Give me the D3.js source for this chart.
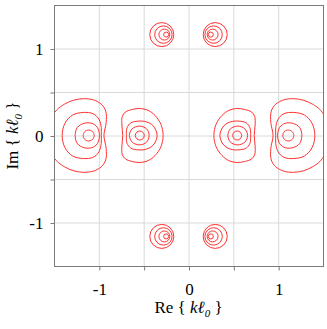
<!DOCTYPE html>
<html>
  <head>
    <meta charset="utf-8">
    <script src="https://d3js.org/d3.v7.min.js"></script>
    <style>
      body { margin: 0; background: #fff; }
      svg text { font-family: "Liberation Serif", "Times New Roman", Times, serif; fill: #000; }
    </style>
  </head>
  <body>
  <script>

    var width = 327;
    var height = 329;

    // axis ticks
    var majorTicks = [-1, 0, 1];
    var gridValues = [-1, -0.5, 0, 0.5, 1];

    // real parts of the two pole groups on the real axis (mirrored to -Re)
    var groupCentres = [0.543, 1.113];

    // contour rings, upper half only, offsets from the group centre
    // dx > 0 points away from the origin
    var innerRings = [
      [[0.05, 0], [0.035, 0.037], [0, 0.052], [-0.035, 0.037], [-0.05, 0]],
      [[0.116, 0], [0.085, 0.077], [0.005, 0.108], [-0.075, 0.077], [-0.104, 0]],
      [[0.15, 0], [0.142, 0.09], [0.1, 0.145], [0.02, 0.165], [-0.07, 0.158], [-0.15, 0.11], [-0.193, 0]],
      [[0.19, 0], [0.2, 0.12], [0.195, 0.22], [0.16, 0.27], [0.08, 0.3], [0, 0.31], [-0.09, 0.29], [-0.17, 0.23], [-0.235, 0.13], [-0.26, 0]]
    ];
    var outerRings = [
      [[0.061, 0], [0.043, 0.045], [0, 0.063], [-0.043, 0.045], [-0.061, 0]],
      [[0.151, 0], [0.125, 0.095], [0.05, 0.14], [-0.035, 0.14], [-0.095, 0.095], [-0.12, 0]],
      [[0.296, 0], [0.265, 0.14], [0.18, 0.235], [0.06, 0.265], [-0.05, 0.25], [-0.115, 0.185], [-0.14, 0.09], [-0.14, 0]],
      [[0.46, 0], [0.43, 0.17], [0.36, 0.29], [0.27, 0.36], [0.17, 0.405], [0.06, 0.423], [-0.05, 0.41], [-0.14, 0.36], [-0.19, 0.28], [-0.195, 0.15], [-0.17, 0]]
    ];

    // small eccentric rings near the complex poles (first quadrant, mirrored)
    var spiralIm = 1.16;
    var spiralRe = [0.249, 0.269, 0.28, 0.298];
    var spiralRx = [0.028, 0.061, 0.097, 0.134];
    var spiralRy = [0.029, 0.063, 0.1, 0.138];

    var x = d3.scaleLinear().domain([-1.5, 1.5]).range([54, 323]);
    var y = d3.scaleLinear().domain([-1.5, 1.5]).range([266, 5]);

    var svg = d3.select('body').append('svg')
      .attr('width', width)
      .attr('height', height);

    svg.append('defs').append('clipPath').attr('id', 'plot')
      .append('rect')
      .attr('x', x(-1.5)).attr('y', y(1.5))
      .attr('width', x(1.5) - x(-1.5)).attr('height', y(-1.5) - y(1.5));

    // grid
    svg.append('g').selectAll('line').data(gridValues).enter().append('line')
      .attr('x1', function(d) { return x(d) + 0.5; })
      .attr('x2', function(d) { return x(d) + 0.5; })
      .attr('y1', y(1.5)).attr('y2', y(-1.5))
      .style('stroke', '#dadada');
    svg.append('g').selectAll('line').data(gridValues).enter().append('line')
      .attr('y1', function(d) { return y(d) + 0.5; })
      .attr('y2', function(d) { return y(d) + 0.5; })
      .attr('x1', x(-1.5)).attr('x2', x(1.5))
      .style('stroke', '#dadada');

    // contours
    var line = d3.line()
      .x(function(d) { return x(d[0]); })
      .y(function(d) { return y(d[1]); })
      .curve(d3.curveCatmullRomClosed.alpha(0.5));

    function fullRing(half, cx, sign) {
      var top = half.map(function(p) { return [cx + sign * p[0], p[1]]; });
      var bottom = half.slice(1, -1).reverse().map(function(p) { return [cx + sign * p[0], -p[1]]; });
      return top.concat(bottom);
    }

    var rings = [];
    [1, -1].forEach(function(sign) {
      innerRings.forEach(function(r) { rings.push(fullRing(r, sign * groupCentres[0], sign)); });
      outerRings.forEach(function(r) { rings.push(fullRing(r, sign * groupCentres[1], sign)); });
    });

    var plot = svg.append('g').attr('clip-path', 'url(#plot)');
    plot.selectAll('path.ring').data(rings).enter().append('path')
      .attr('class', 'ring')
      .attr('d', line)
      .style('fill', 'none')
      .style('stroke', '#ff3030')
      .style('stroke-width', 1);

    var spirals = [];
    [1, -1].forEach(function(sx) {
      [1, -1].forEach(function(sy) {
        spiralRe.forEach(function(re, i) {
          spirals.push({cx: sx * re, cy: sy * spiralIm, rx: spiralRx[i], ry: spiralRy[i]});
        });
      });
    });
    plot.selectAll('ellipse').data(spirals).enter().append('ellipse')
      .attr('cx', function(d) { return x(d.cx); })
      .attr('cy', function(d) { return y(d.cy); })
      .attr('rx', function(d) { return x(d.rx) - x(0); })
      .attr('ry', function(d) { return y(0) - y(d.ry); })
      .style('fill', 'none')
      .style('stroke', '#ff3030')
      .style('stroke-width', 1);

    // frame
    svg.append('rect')
      .attr('x', x(-1.5) + 0.5).attr('y', y(1.5) + 0.5)
      .attr('width', x(1.5) - x(-1.5)).attr('height', y(-1.5) - y(1.5))
      .style('fill', 'none').style('stroke', '#7a7a7a');

    // axes
    var fmt = function(d) { return majorTicks.indexOf(d) >= 0 ? String(d) : ''; };
    var xAxis = d3.axisBottom(x).tickValues(gridValues).tickSize(4).tickFormat(fmt);
    var yAxis = d3.axisLeft(y).tickValues(gridValues).tickSize(4).tickFormat(fmt);

    var gx = svg.append('g').attr('transform', 'translate(0.5,' + (y(-1.5) + 0.5) + ')').call(xAxis);
    var gy = svg.append('g').attr('transform', 'translate(' + (x(-1.5) + 0.5) + ',0.5)').call(yAxis);
    [gx, gy].forEach(function(g) {
      g.attr('font-family', null).attr('font-size', null);
      g.select('.domain').remove();
      g.selectAll('line').style('stroke', '#7a7a7a');
      g.selectAll('text')
        .style('font-size', '17px')
        .style('fill', '#000');
    });
    gx.selectAll('text').attr('y', 16);
    gy.selectAll('text').attr('x', -11);

    function axisTitle(t, name) {
      t.append('tspan').text(name + ' { ');
      t.append('tspan').style('font-style', 'italic').text('k\u2113');
      t.append('tspan').style('font-style', 'italic').style('font-size', '11px').attr('dy', 4).text('0');
      t.append('tspan').attr('dy', -4).text(' }');
    }

    var xt = svg.append('text')
      .attr('x', x(0)).attr('y', 313)
      .attr('text-anchor', 'middle')
      .style('font-size', '17px');
    axisTitle(xt, 'Re');

    var yt = svg.append('text')
      .attr('transform', 'translate(18,' + y(0) + ') rotate(-90)')
      .attr('text-anchor', 'middle')
      .style('font-size', '17px');
    axisTitle(yt, 'Im');

  </script>
  </body>
</html>
